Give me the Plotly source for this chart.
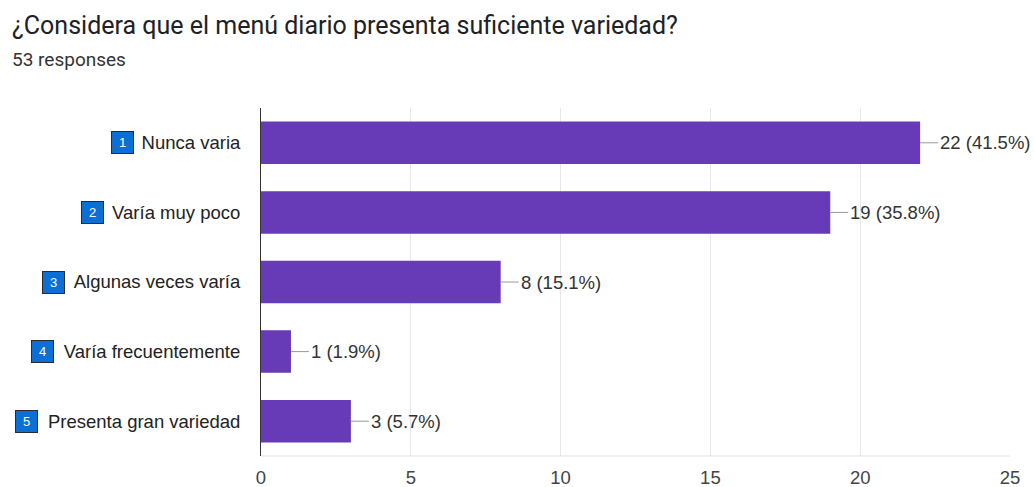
import plotly.graph_objects as go

# survey answers (top to bottom)
categories = ['Nunca varia', 'Varía muy poco', 'Algunas veces varía',
              'Varía frecuentemente', 'Presenta gran variedad']
counts = [22, 19, 8, 1, 3]
percents = ['41.5%', '35.8%', '15.1%', '1.9%', '5.7%']
total = 53
x_ticks = [0, 5, 10, 15, 20, 25]

W, H = 1034, 487
ML, MR, MT, MB = 261, 24, 108, 31
pw = W - ML - MR
ph = H - MT - MB
LBL = 'Liberation Sans, Arial, sans-serif'


def px_x(p):
    return (p - ML) / pw


def px_y(p):
    return (H - MB - p) / ph


fig = go.Figure()
fig.add_trace(go.Bar(
    x=counts, y=categories, orientation='h',
    marker=dict(color='#673ab7', line=dict(width=0)),
    hoverinfo='skip'))

annotations = []
# value labels with leader line
for c, cat, pct in zip(counts, categories, percents):
    annotations.append(dict(
        x=c, y=cat, xref='x', yref='y',
        text=f'{c} ({pct})', showarrow=True, arrowhead=0,
        arrowwidth=1, arrowcolor='#999999', ax=18, ay=0,
        xanchor='left', font=dict(family=LBL, size=18.5, color='#333333')))

# numbered badges next to category labels
badge_x = [122.5, 92.5, 53, 42.5, 26.5]
for i, (cat, bx) in enumerate(zip(categories, badge_x)):
    annotations.append(dict(
        x=px_x(bx), y=cat, xref='paper', yref='y',
        text=str(i + 1), showarrow=False, xanchor='center', yanchor='middle',
        bgcolor='#0b6fd6', bordercolor='#2b2b2b', borderwidth=1, borderpad=1,
        width=19, height=19,
        font=dict(family=LBL, size=13, color='white')))

annotations.append(dict(
    x=px_x(10), y=px_y(25), xref='paper', yref='paper',
    text='¿Considera que el menú diario presenta suficiente variedad?',
    showarrow=False, xanchor='left', yanchor='middle',
    font=dict(family='Roboto', size=25, color='#202124')))
annotations.append(dict(
    x=px_x(10), y=px_y(60), xref='paper', yref='paper',
    text=f'{total} responses', showarrow=False, xanchor='left', yanchor='middle',
    font=dict(family='Roboto', size=19, color='#333333')))

fig.update_layout(
    width=W, height=H,
    margin=dict(l=ML, r=MR, t=MT, b=MB),
    paper_bgcolor='white', plot_bgcolor='white',
    bargap=0.39, showlegend=False,
    annotations=annotations,
    font=dict(family=LBL, size=18, color='#333333'))

fig.update_xaxes(
    range=[0, 25], tickvals=x_ticks, showgrid=True, gridcolor='#e8e8e8',
    zeroline=False, showline=False, automargin=False, ticklabelstandoff=8,
    tickfont=dict(family=LBL, size=18.5, color='#444444'))
fig.update_yaxes(
    autorange='reversed', showline=True, linecolor='#333333', linewidth=1,
    showgrid=False, ticks='', ticklabelstandoff=16, automargin=False,
    tickfont=dict(family=LBL, size=18.5, color='#222222'))

fig.add_shape(type='line', xref='paper', yref='paper', x0=0, x1=1, y0=0, y1=0,
              line=dict(color='#e0e0e0', width=1))

fig.write_html("out.html", config={'displayModeBar': False},
               post_script="document.body.style.margin='0';")
